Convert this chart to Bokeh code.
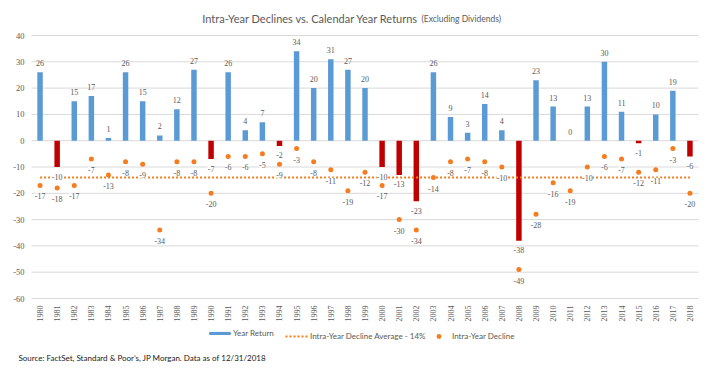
import math
from bokeh.plotting import figure
from bokeh.models import (ColumnDataSource, Range1d, LabelSet, Label, Legend, LegendItem)
from bokeh.embed import file_html
from bokeh.resources import INLINE

years = [str(y) for y in range(1980, 2019)]
year_returns = [26, -10, 15, 17, 1, 26, 15, 2, 12, 27, -7, 26, 4, 7, -2, 34, 20, 31, 27, 20,
                -10, -13, -23, 26, 9, 3, 14, 4, -38, 23, 13, 0, 13, 30, 11, -1, 10, 19, -6]
intra_year_declines = [-17, -18, -17, -7, -13, -8, -9, -34, -8, -8, -20, -6, -6, -5, -9, -3, -8, -11,
                       -19, -12, -17, -30, -34, -14, -8, -7, -8, -10, -49, -28, -16, -19, -10, -6,
                       -7, -12, -11, -3, -20]
average_decline = -14
y_ticks = [-60, -50, -40, -30, -20, -10, 0, 10, 20, 30, 40]

FONT = "Lato"
GRAY = "#595959"
BLUE = "#5B9BD5"
RED = "#C00000"
ORANGE = "#F57C1F"

# --- layout geometry (pixels of the figure canvas) ---
W, H = 712, 364
PL, PR = 31, 698          # plot area left / right
PT, PB = 35, 298          # plot area top / bottom
n = len(years)
ymin, ymax = y_ticks[0], y_ticks[-1]
xpx = (PR - PL) / n
ypx = (PB - PT) / (ymax - ymin)
x_range = Range1d(-0.5 - PL / xpx, n - 0.5 + (W - PR) / xpx)
y_range = Range1d(ymin - (H - PB) / ypx, ymax + PT / ypx)

p = figure(width=W, height=H, x_range=x_range, y_range=y_range, output_backend="svg",
           toolbar_location=None, x_axis_type=None, y_axis_type=None,
           min_border=0, min_border_left=0, min_border_right=0, min_border_top=0,
           min_border_bottom=0)
p.outline_line_color = None
p.grid.visible = False

xi = list(range(n))

# gridlines and y tick labels
p.segment(x0=[-0.5] * len(y_ticks), x1=[n - 0.5] * len(y_ticks), y0=y_ticks, y1=y_ticks,
          line_color="#D9D9D9", line_width=1)
tick_src = ColumnDataSource(dict(x=[-0.5] * len(y_ticks), y=y_ticks, t=[str(v) for v in y_ticks]))
p.add_layout(LabelSet(x="x", y="y", text="t", source=tick_src, x_offset=-7,
                      text_font=FONT, text_font_size="8.5px", text_color=GRAY,
                      text_align="right", text_baseline="middle"))
yr_src = ColumnDataSource(dict(x=xi, y=[ymin] * n, t=years))
p.add_layout(LabelSet(x="x", y="y", text="t", source=yr_src, y_offset=-7, angle=math.pi / 2,
                      text_font=FONT, text_font_size="8px", text_color=GRAY,
                      text_align="right", text_baseline="middle"))

pos_idx = [i for i, v in enumerate(year_returns) if v >= 0]
neg_idx = [i for i, v in enumerate(year_returns) if v < 0]
pos_src = ColumnDataSource(dict(x=[xi[i] for i in pos_idx], top=[year_returns[i] for i in pos_idx],
                                t=[str(year_returns[i]) for i in pos_idx]))
neg_src = ColumnDataSource(dict(x=[xi[i] for i in neg_idx], top=[year_returns[i] for i in neg_idx],
                                t=[str(year_returns[i]) for i in neg_idx]))
dec_src = ColumnDataSource(dict(x=xi, y=intra_year_declines, t=[str(v) for v in intra_year_declines]))

pos_r = p.vbar(x="x", top="top", bottom=0, width=0.32, source=pos_src, fill_color=BLUE,
               line_color=None)
p.vbar(x="x", top="top", bottom=0, width=0.32, source=neg_src, fill_color=RED, line_color=None)
avg_r = p.line(x=xi, y=[average_decline] * n, line_color=ORANGE, line_width=2, line_dash="2 2")
dot_r = p.scatter(x="x", y="y", source=dec_src, size=5, fill_color=ORANGE, line_color=None)

lbl_common = dict(text_font=FONT, text_font_size="8px", text_color=GRAY, text_align="center",
                  text_baseline="middle")
p.add_layout(LabelSet(x="x", y="top", text="t", source=pos_src, y_offset=9, **lbl_common))
p.add_layout(LabelSet(x="x", y="top", text="t", source=neg_src, y_offset=-9.5,
                      background_fill_color="white", **lbl_common))
p.add_layout(LabelSet(x="x", y="y", text="t", source=dec_src, y_offset=-11,
                      background_fill_color="white", **lbl_common))

# title in two sizes
p.add_layout(Label(x=418, y=H - 18, x_units="screen", y_units="screen",
                   text="Intra-Year Declines vs. Calendar Year Returns", text_font=FONT,
                   text_font_size="11px", text_color=GRAY, text_align="right",
                   text_baseline="middle"))
p.add_layout(Label(x=421, y=H - 18, x_units="screen", y_units="screen",
                   text="(Excluding Dividends)", text_font=FONT,
                   text_font_size="8.5px", text_color=GRAY, text_align="left",
                   text_baseline="middle"))
# source note
p.add_layout(Label(x=18, y=H - 357, x_units="screen", y_units="screen",
                   text="Source: FactSet, Standard & Poor\u2019s, JP Morgan. Data as of 12/31/2018",
                   text_font=FONT, text_font_size="8px", text_color="#1A1A1A",
                   text_align="left", text_baseline="middle"))

# legend (three single-item legends, each pinned)
leg_common = dict(orientation="horizontal", padding=0, margin=0, spacing=0,
                  border_line_color=None, background_fill_alpha=0, label_text_font=FONT,
                  label_text_font_size="8px", label_text_color=GRAY)
p.add_layout(Legend(items=[LegendItem(label="Year Return", renderers=[pos_r])],
                    location=(206, H - 338), glyph_width=27, glyph_height=4, label_height=4,
                    label_standoff=0, **leg_common))
for lx, lab, rend in [(285, "Intra-Year Decline Average - 14%", avg_r),
                      (427, "Intra-Year Decline", dot_r)]:
    p.add_layout(Legend(items=[LegendItem(label=lab, renderers=[rend])],
                        location=(lx, H - 342), glyph_width=23, glyph_height=12,
                        label_height=12, label_standoff=2, **leg_common))

open("out.html", "w").write(file_html(p, INLINE))
